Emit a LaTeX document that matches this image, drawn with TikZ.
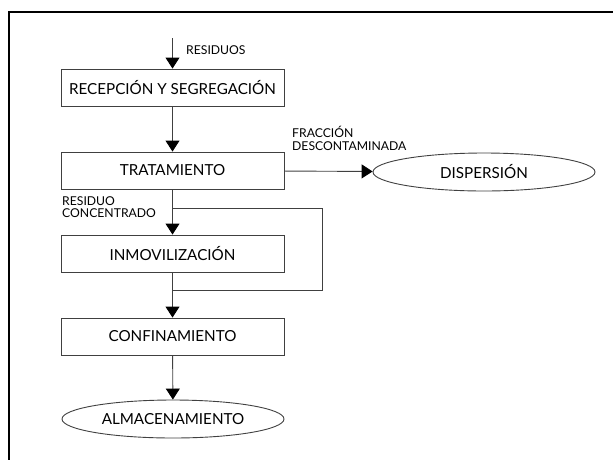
\documentclass[tikz,border=0pt]{standalone}
\usepackage{fontspec}
\setmainfont{Lato}
\usepackage{tikz}
\usetikzlibrary{positioning, arrows.meta, shapes.geometric}

\tikzset{
  stagebox/.style={draw=black!75, line width=0.9pt, minimum width=223pt, minimum height=37pt, inner sep=0pt, font=\fontsize{15.2}{16}\selectfont},
  endoval/.style={draw=black!75, line width=0.9pt, ellipse, minimum width=222pt, minimum height=38pt, inner sep=0pt, font=\fontsize{15.2}{16}\selectfont},
  flow/.style={draw=black!75, line width=0.9pt, -{Triangle[length=11pt, width=14pt, color=black]}},
  note/.style={font=\fontsize{12.2}{12.5}\selectfont, align=left, inner sep=0pt}
}

\begin{document}
\begin{tikzpicture}[x=1pt, y=-1pt]
  \useasboundingbox (0,0) rectangle (613,459);
  % outer frame, cut by the page edge
  \draw[line width=1.4pt] (9,12) rectangle (640,490);

  \node[stagebox] (recep) at (172.5,87.5) {RECEPCIÓN Y SEGREGACIÓN};
  \node[stagebox] (trat) at (172.5,170.5) {TRATAMIENTO};
  \node[stagebox] (inmov) at (172.5,253.5) {INMOVILIZACIÓN};
  \node[stagebox] (confin) at (172.5,336.5) {CONFINAMIENTO};
  \node[endoval] (disp) at (484,172) {DISPERSIÓN};
  \node[endoval] (almac) at (173,419) {ALMACENAMIENTO};

  \coordinate (entrada) at (172.5,38);
  \coordinate (desvio) at (172.5,208);
  \coordinate (union) at (172.5,290);

  \node[note, anchor=west] (lresid) at (186,50) {RESIDUOS};
  \node[note, anchor=north west] (lfrac) at (292,126) {FRACCIÓN\\DESCONTAMINADA};
  \node[note, anchor=north west] (lconc) at (62,196) {RESIDUO\\CONCENTRADO};

  \draw[flow] (entrada) -- (recep);
  \draw[flow] (recep) -- (trat);
  \draw[flow] (trat) -- (disp);
  \draw[flow] (trat) -- (inmov);
  \draw[flow] (inmov) -- (confin);
  \draw[flow] (confin) -- (almac);
  % bypass round the immobilisation step
  \draw[draw=black!75, line width=0.9pt] (desvio) -| (322,290) -- (union);
\end{tikzpicture}
\end{document}
